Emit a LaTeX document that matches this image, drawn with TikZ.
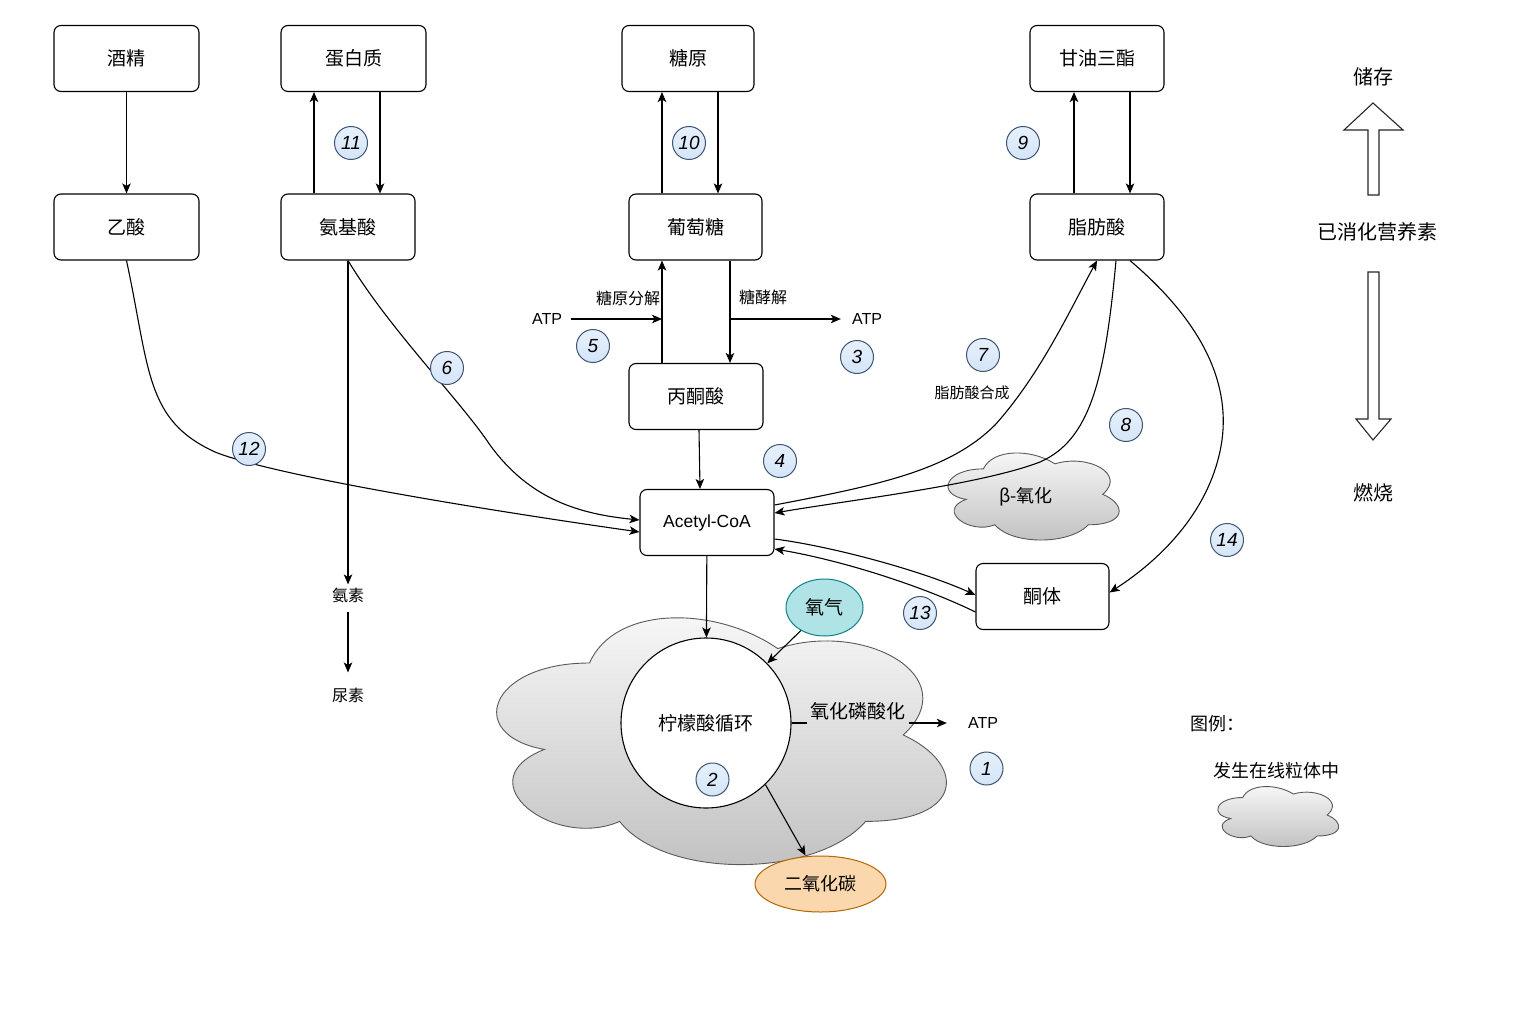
\documentclass[tikz,border=0pt]{standalone}
\usepackage{fontspec}
\setmainfont{Noto Sans CJK SC}
\newfontfamily\latinf{Liberation Sans}
\usetikzlibrary{arrows.meta,shapes.geometric}

\definecolor{badgefill}{HTML}{D4E5F8}
\definecolor{badgetop}{HTML}{E6F0FC}
\definecolor{badgeline}{HTML}{3E5470}
\definecolor{oxfill}{HTML}{B0E3E6}
\definecolor{oxline}{HTML}{0E8088}
\definecolor{cofill}{HTML}{FAD7AC}
\definecolor{coline}{HTML}{B46504}

% draw.io style cloud: x0 y0 w h style
\newcommand\mitocloud[5]{%
\path[#5] ({#1+0.25*#3},{#2+0.25*#4})
 .. controls ({#1+0.05*#3},{#2+0.25*#4}) and ({#1},{#2+0.5*#4}) .. ({#1+0.16*#3},{#2+0.55*#4})
 .. controls ({#1},{#2+0.66*#4}) and ({#1+0.18*#3},{#2+0.9*#4}) .. ({#1+0.31*#3},{#2+0.8*#4})
 .. controls ({#1+0.4*#3},{#2+#4}) and ({#1+0.7*#3},{#2+#4}) .. ({#1+0.8*#3},{#2+0.8*#4})
 .. controls ({#1+#3},{#2+0.8*#4}) and ({#1+#3},{#2+0.6*#4}) .. ({#1+0.875*#3},{#2+0.5*#4})
 .. controls ({#1+#3},{#2+0.3*#4}) and ({#1+0.8*#3},{#2+0.1*#4}) .. ({#1+0.625*#3},{#2+0.2*#4})
 .. controls ({#1+0.5*#3},{#2+0.05*#4}) and ({#1+0.3*#3},{#2+0.05*#4}) .. ({#1+0.25*#3},{#2+0.25*#4})
 -- cycle;}

\tikzset{
 box/.style={draw, line width=1.1pt, rounded corners=7pt, minimum height=66pt, inner sep=0pt, font=\fontsize{19}{22}\selectfont},
 arr/.style={-{Stealth[length=10pt,width=8.5pt,inset=2.5pt]}, line width=1.1pt},
 plain/.style={line width=1.1pt},
 badge/.style={circle, draw=badgeline, top color=badgetop, bottom color=badgefill, line width=1pt, minimum size=33pt, inner sep=0pt, font=\latinf\itshape\fontsize{19}{19}\selectfont},
 lbl/.style={inner sep=3pt, font=\fontsize{16}{18}\selectfont},
 big/.style={inner sep=3pt, font=\fontsize{20}{22}\selectfont},
 atp/.style={inner sep=3pt, font=\latinf\fontsize{16}{18}\selectfont},
 cloudst/.style={draw=gray!70!black, line width=0.9pt, top color=gray!5, bottom color=gray!50},
 hollow/.style={draw=black!85, line width=1.1pt, fill=white},
}

\begin{document}
\begin{tikzpicture}[x=1pt,y=-1pt]
\fill[white] (0,0) rectangle (1536,1024);
\useasboundingbox (0,0) rectangle (1536,1024);

% clouds
\mitocloud{464}{591}{502}{288}{cloudst}
\mitocloud{935.6}{443.5}{191}{101.6}{cloudst}
\mitocloud{1209}{780}{135}{70}{cloudst}

% boxes
\node[box, minimum width=145pt] (jj) at (126.5,58.5) {酒精};
\node[box, minimum width=145pt] (ys) at (126.5,227) {乙酸};
\node[box, minimum width=145pt] (prot) at (353.5,58.5) {蛋白质};
\node[box, minimum width=134pt] (amino) at (348,227) {氨基酸};
\node[box, minimum width=132pt] (glycogen) at (688,58.5) {糖原};
\node[box, minimum width=133pt] (glu) at (695.5,227) {葡萄糖};
\node[box, minimum width=134pt] (tg) at (1097,58.5) {甘油三酯};
\node[box, minimum width=134pt] (fa) at (1097,227) {脂肪酸};
\node[box, minimum width=134pt] (pyr) at (696,396.5) {丙酮酸};
\node[box, minimum width=134pt, font=\latinf\fontsize{17.5}{20}\selectfont] (acoa) at (707,522.5) {Acetyl-CoA};
\node[box, minimum width=133pt] (ket) at (1042.5,596.5) {酮体};

% citric acid cycle
\node[circle, draw, fill=white, line width=1.1pt, minimum size=170pt, inner sep=0pt, font=\fontsize{19}{22}\selectfont] (cyc) at (706,723) {柠檬酸循环};
\node[ellipse, draw=oxline, fill=oxfill, line width=1pt, minimum width=77pt, minimum height=57pt, inner sep=0pt, font=\fontsize{19}{22}\selectfont] (o2) at (824.5,607.5) {氧气};
\node[ellipse, draw=coline, fill=cofill, line width=1pt, minimum width=131pt, minimum height=56pt, inner sep=0pt, font=\fontsize{18}{22}\selectfont] (co2) at (820.5,884) {二氧化碳};

% text labels
\node[lbl] (ammon) at (348,595) {氨素};
\node[lbl] (urea) at (348,695) {尿素};
\node[atp] (atpL) at (547,319) {ATP};
\node[atp] (atpR) at (867,319) {ATP};
\node[atp] (atpB) at (983,723) {ATP};
\node[lbl] (gdec) at (628,298) {糖原分解};
\node[lbl] (glyc) at (763,297) {糖酵解};
\node[lbl, font=\fontsize{15}{17}\selectfont] (fasyn) at (972,393) {脂肪酸合成};
\node[inner sep=3pt, font=\fontsize{19}{22}\selectfont] (oxp) at (858,711) {氧化磷酸化};
\node[inner sep=2pt, font=\fontsize{18}{22}\selectfont] (beta) at (1026,497) {β-氧化};
\node[big] (store) at (1373,77) {储存};
\node[big] (nutr) at (1377,232) {已消化营养素};
\node[big] (burn) at (1373,493) {燃烧};
\node[inner sep=0pt, anchor=west, font=\fontsize{18}{22}\selectfont] (legend) at (1190,724) {图例：};
\node[inner sep=2pt, font=\fontsize{18}{22}\selectfont] (legtxt) at (1276,771) {发生在线粒体中};

% hollow arrows
\draw[hollow] (1368,195) -- (1368,130) -- (1344,130) -- (1373,103) -- (1403,130) -- (1379,130) -- (1379,195) -- cycle;
\draw[hollow] (1368,272) -- (1368,419) -- (1356,419) -- (1373,440) -- (1391,419) -- (1379,419) -- (1379,272) -- cycle;

% straight connectors
\draw[arr] (jj) -- (ys);
\draw[arr] (amino.north -| 314,0) -- (prot.south -| 314,0);
\draw[arr] (prot.south -| 380,0) -- (amino.north -| 380,0);
\draw[arr] (glu.north -| 662,0) -- (glycogen.south -| 662,0);
\draw[arr] (glycogen.south -| 718,0) -- (glu.north -| 718,0);
\draw[arr] (fa.north -| 1074,0) -- (tg.south -| 1074,0);
\draw[arr] (tg.south -| 1130,0) -- (fa.north -| 1130,0);
\draw[arr] (pyr.north -| 662,0) -- (glu.south -| 662,0);
\draw[arr] (glu.south -| 730,0) -- (pyr.north -| 730,0);
\coordinate (j5) at (662,319);
\coordinate (j3) at (730,319);
\draw[arr, shorten <=6pt] (atpL) -- (j5);
\draw[arr, shorten >=8pt] (j3) -- (atpR);
\draw[arr] (pyr.south -| 699,0) -- (acoa.north -| 700,0);
\draw[arr] (amino) -- (ammon);
\draw[arr, shorten <=6pt, shorten >=12pt] (ammon) -- (urea);
\draw[arr] (acoa) -- (cyc);
\draw[arr] (o2) -- (cyc);
\draw[arr] (cyc.-46) -- ([xshift=-15pt]co2.north);
\draw[plain] (cyc.east) -- (oxp.west |- cyc.east);
\draw[arr, shorten >=18pt] (oxp.east |- cyc.east) -- (atpB.west |- cyc.east);

% curved connectors
\draw[arr] (ys.south) .. controls (150,370) and (145,420) .. (215,452)
  .. controls (280,478) and (520,515) .. ([yshift=-9.5pt]acoa.west);
\draw[arr] (amino.south) .. controls (390,330) and (460,400) .. (490,445)
  .. controls (530,500) and (580,514) .. ([yshift=2.5pt]acoa.west);
\draw[arr] ([yshift=17.5pt]acoa.east) .. controls (880,485) and (950,470) .. (995,425)
  .. controls (1040,375) and (1070,310) .. (fa.south);
\draw[arr] ([xshift=19pt]fa.south) .. controls (1105,380) and (1090,440) .. (1040,462)
  .. controls (980,485) and (850,500) .. ([yshift=9.5pt]acoa.east);
\draw[arr] ([xshift=33pt]fa.south) .. controls (1200,320) and (1230,380) .. (1222,440)
  .. controls (1212,510) and (1160,560) .. ([yshift=4pt]ket.east);
\draw[arr] ([yshift=-16.5pt]acoa.east) .. controls (830,546) and (920,570) .. ([yshift=1.5pt]ket.west);
\draw[arr] ([yshift=-15.5pt]ket.west) .. controls (920,585) and (840,560) .. ([yshift=-26.5pt]acoa.east);

% badges
\node[badge] (n1) at (986.5,768.5) {1};
\node[badge] (n2) at (712.5,779.5) {2};
\node[badge] (n3) at (857,357) {3};
\node[badge] (n4) at (780,461) {4};
\node[badge] (n5) at (593,346) {5};
\node[badge] (n6) at (447,368) {6};
\node[badge] (n7) at (983,355) {7};
\node[badge] (n8) at (1126,425) {8};
\node[badge] (n9) at (1023,143) {9};
\node[badge] (n10) at (689,143) {10};
\node[badge] (n11) at (351,143) {11};
\node[badge] (n12) at (249,449) {12};
\node[badge] (n13) at (920,613) {13};
\node[badge] (n14) at (1227,540) {14};
\end{tikzpicture}
\end{document}
